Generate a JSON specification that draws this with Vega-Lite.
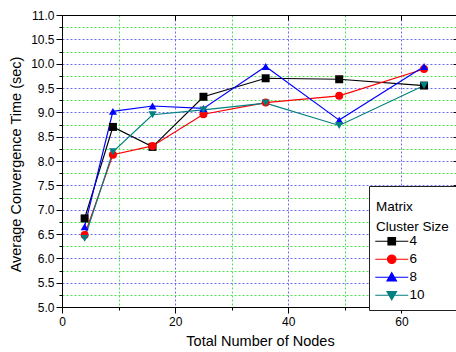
{
  "$schema": "https://vega.github.io/schema/vega-lite/v6.json",
  "autosize": {"type": "none"},
  "padding": {"left": 62, "top": 15, "right": 0, "bottom": 45},
  "width": 396,
  "height": 292,
  "background": "white",
  "config": {
    "view": {"stroke": null},
    "font": "Liberation Sans",
    "axis": {"labelFont": "Liberation Sans", "titleFont": "Liberation Sans", "labelColor": "#000", "titleColor": "#000", "domainColor": "#000", "tickColor": "#000", "titleFontWeight": "normal", "labelFontSize": 12, "titleFontSize": 14.5},
    "legend": {
      "orient": "none",
      "legendX": 307,
      "legendY": 171,
      "padding": 7,
      "fillColor": "white",
      "strokeColor": "#222",
      "titleFontSize": 13.5,
      "titleFontWeight": "normal",
      "titleFont": "Liberation Sans",
      "titleColor": "#000",
      "titleLineHeight": 20,
      "titlePadding": 8,
      "labelFontSize": 13.5,
      "labelFont": "Liberation Sans",
      "labelColor": "#000",
      "labelOffset": 11,
      "symbolOffset": 9,
      "symbolStrokeWidth": 1.2,
      "symbolOpacity": 1,
      "rowPadding": 3
    }
  },
  "data": {
    "values": [
      {"n": 4, "t": 6.82, "s": 4}, {"n": 9, "t": 8.70, "s": 4}, {"n": 16, "t": 8.29, "s": 4}, {"n": 25, "t": 9.32, "s": 4}, {"n": 36, "t": 9.70, "s": 4}, {"n": 49, "t": 9.68, "s": 4}, {"n": 64, "t": 9.55, "s": 4},
      {"n": 4, "t": 6.48, "s": 6}, {"n": 9, "t": 8.13, "s": 6}, {"n": 16, "t": 8.31, "s": 6}, {"n": 25, "t": 8.96, "s": 6}, {"n": 36, "t": 9.20, "s": 6}, {"n": 49, "t": 9.34, "s": 6}, {"n": 64, "t": 9.89, "s": 6},
      {"n": 4, "t": 6.65, "s": 8}, {"n": 9, "t": 9.02, "s": 8}, {"n": 16, "t": 9.13, "s": 8}, {"n": 25, "t": 9.08, "s": 8}, {"n": 36, "t": 9.94, "s": 8}, {"n": 49, "t": 8.84, "s": 8}, {"n": 64, "t": 9.94, "s": 8},
      {"n": 4, "t": 6.41, "s": 10}, {"n": 9, "t": 8.19, "s": 10}, {"n": 16, "t": 8.95, "s": 10}, {"n": 25, "t": 9.05, "s": 10}, {"n": 36, "t": 9.19, "s": 10}, {"n": 49, "t": 8.73, "s": 10}, {"n": 64, "t": 9.55, "s": 10}
    ]
  },
  "layer": [
    {
      "mark": {"type": "line", "strokeWidth": 1.2},
      "encoding": {
        "x": {
          "field": "n", "type": "quantitative",
          "scale": {"domain": [0, 70], "nice": false, "zero": false},
          "axis": {
            "orient": "bottom",
            "title": "Total Number of Nodes",
            "values": [0, 10, 20, 30, 40, 50, 60, 70],
            "labelExpr": "datum.value % 20 === 0 ? datum.label : ''",
            "labelOverlap": false, "labelFlush": false, "labelBound": false,
            "labelPadding": 3,
            "tickSize": {"condition": {"test": "datum.value % 20 === 0", "value": 6}, "value": 3},
            "grid": true,
            "gridColor": {"condition": {"test": "datum.value % 20 === 0", "value": "#6b6bf0"}, "value": "#4fe04f"},
            "gridDash": [2, 2],
            "gridWidth": 1,
            "titlePadding": 7
          }
        },
        "y": {
          "field": "t", "type": "quantitative",
          "scale": {"domain": [5, 11], "nice": false, "zero": false},
          "axis": {
            "orient": "left",
            "title": "Average Convergence Time (sec)",
            "titleY": 149,
            "values": [5, 5.25, 5.5, 5.75, 6, 6.25, 6.5, 6.75, 7, 7.25, 7.5, 7.75, 8, 8.25, 8.5, 8.75, 9, 9.25, 9.5, 9.75, 10, 10.25, 10.5, 10.75, 11],
            "format": ".1f",
            "labelExpr": "datum.value % 0.5 === 0 ? datum.label : ''",
            "labelOverlap": false, "labelFlush": false, "labelBound": false,
            "labelPadding": 2,
            "tickSize": {"condition": {"test": "datum.value % 0.5 === 0", "value": 6}, "value": 3},
            "grid": true,
            "gridColor": {"condition": {"test": "datum.value % 0.5 === 0", "value": "#6b6bf0"}, "value": "#4fe04f"},
            "gridDash": [2, 2],
            "gridWidth": 1,
            "titlePadding": 7
          }
        },
        "color": {
          "field": "s", "type": "nominal",
          "scale": {"domain": [4, 6, 8, 10], "range": ["#000000", "#ff0000", "#0000ff", "#008080"]},
          "legend": null
        },
        "detail": {"field": "s"}
      }
    },
    {
      "mark": {"type": "point", "filled": true, "size": 64, "opacity": 1},
      "encoding": {
        "x": {
          "field": "n", "type": "quantitative",
          "axis": {"orient": "top", "title": null, "labels": false, "grid": false, "values": [0, 20, 40, 60], "tickSize": -5}
        },
        "y": {
          "field": "t", "type": "quantitative",
          "axis": {"orient": "right", "title": null, "labels": false, "grid": false, "values": [5, 5.5, 6, 6.5, 7, 7.5, 8, 8.5, 9, 9.5, 10, 10.5, 11], "tickSize": -5}
        },
        "color": {"field": "s", "type": "nominal", "legend": null},
        "shape": {
          "field": "s", "type": "nominal",
          "scale": {"domain": [4, 6, 8, 10], "range": ["square", "circle", "triangle-up", "triangle-down"]},
          "legend": null
        }
      }
    },
    {
      "transform": [{"filter": "false"}],
      "mark": {"type": "point", "filled": true, "size": 100},
      "encoding": {
        "fill": {
          "field": "s", "type": "nominal",
          "scale": {"domain": [4, 6, 8, 10], "range": ["#000000", "#ff0000", "#0000ff", "#008080"]},
          "legend": {"title": ["Matrix", "Cluster Size"], "encode": {"title": {"update": {"dy": {"value": 7}}}}}
        },
        "stroke": {
          "field": "s", "type": "nominal",
          "scale": {"domain": [4, 6, 8, 10], "range": ["#000000", "#ff0000", "#0000ff", "#008080"]},
          "legend": {"title": ["Matrix", "Cluster Size"], "encode": {"title": {"update": {"dy": {"value": 7}}}}}
        },
        "shape": {
          "field": "s", "type": "nominal",
          "scale": {
            "domain": [4, 6, 8, 10],
            "range": [
              "M-3.3,0H3.3M-0.75,-0.75H0.75V0.75H-0.75Z",
              "M-3.3,0H3.3M0.85,0A0.85,0.85,0,1,1,-0.85,0A0.85,0.85,0,1,1,0.85,0Z",
              "M-3.3,0H3.3M0,-0.9L0.95,0.75H-0.95Z",
              "M-3.3,0H3.3M0,0.9L0.95,-0.75H-0.95Z"
            ]
          },
          "legend": {"title": ["Matrix", "Cluster Size"], "encode": {"title": {"update": {"dy": {"value": 7}}}}}
        }
      }
    }
  ],
  "resolve": {
    "axis": {"x": "independent", "y": "independent"},
    "scale": {"shape": "independent", "fill": "independent", "stroke": "independent"}
  }
}
